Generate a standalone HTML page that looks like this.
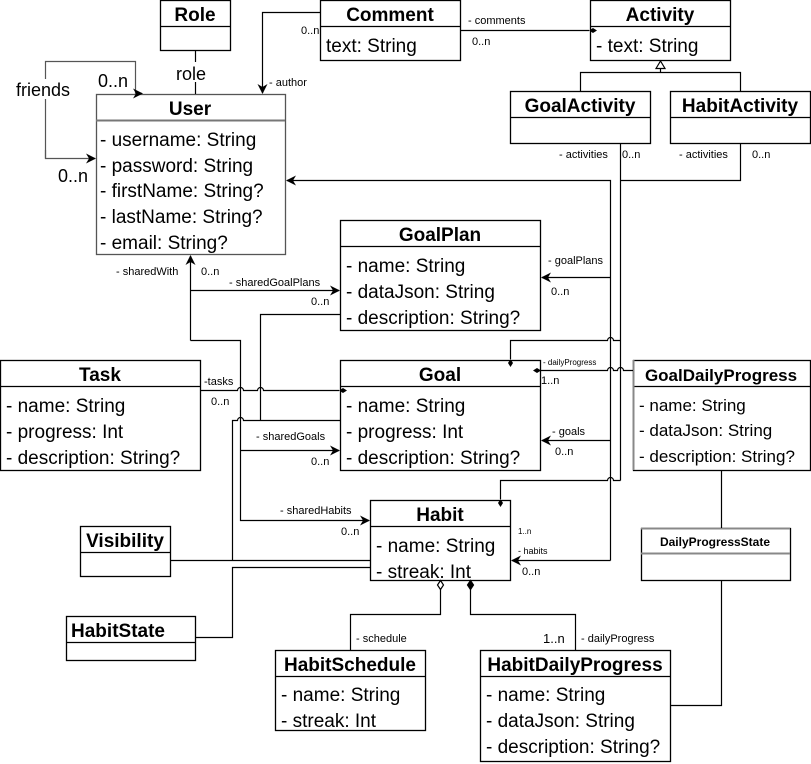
<!DOCTYPE html>
<html><head><meta charset="utf-8"><style>
html,body{margin:0;padding:0;background:#fff;}
svg{display:block;font-family:"Liberation Sans",sans-serif;}
.t{font-weight:bold;font-size:19px;text-anchor:middle;}
.a{font-size:19px;}
.s{font-size:11px;}
.m{font-size:12px;}
</style></head><body>
<svg width="811" height="764" viewBox="0 0 811 764" xmlns="http://www.w3.org/2000/svg">
<defs>
<marker id="ar" markerWidth="10" markerHeight="10" refX="9" refY="5" orient="auto" markerUnits="userSpaceOnUse"><path d="M0,0 L10,5 L0,10 L3,5 z" fill="#000"/></marker>
<marker id="fd" markerWidth="12" markerHeight="8" refX="1" refY="4" orient="auto" markerUnits="userSpaceOnUse"><path d="M1,4 L5,1.5 L9,4 L5,6.5 z" fill="#000"/></marker>
</defs>
<g fill="#fff" stroke="#000" stroke-width="1.3">
<rect x="160.5" y="0.5" width="70" height="50"/><line x1="160" y1="26.5" x2="230" y2="26.5"/>
<rect x="320.5" y="0.5" width="140" height="60"/><line x1="320" y1="26.5" x2="460" y2="26.5"/>
<rect x="590.5" y="0.5" width="140" height="60"/><line x1="590" y1="26.5" x2="730" y2="26.5"/>
<rect x="96.5" y="94.5" width="189" height="160" stroke="#555"/><line x1="96" y1="120.5" x2="285" y2="120.5" stroke="#777" stroke-width="2"/>
<rect x="510.5" y="91.5" width="140" height="52"/><line x1="510" y1="117.5" x2="650" y2="117.5"/>
<rect x="670.5" y="91.5" width="140" height="52"/><line x1="670" y1="117.5" x2="810" y2="117.5"/>
<rect x="340.5" y="220.5" width="200" height="110"/><line x1="340" y1="246.5" x2="540" y2="246.5"/>
<rect x="0.5" y="360.5" width="200" height="110"/><line x1="0" y1="386.5" x2="200" y2="386.5"/>
<rect x="340.5" y="360.5" width="200" height="110"/><line x1="340" y1="386.5" x2="540" y2="386.5"/>
<rect x="633.5" y="360.5" width="177" height="110"/><line x1="633" y1="386.5" x2="810" y2="386.5"/><line x1="633.5" y1="360" x2="633.5" y2="470" stroke="#888" stroke-width="2"/>
<rect x="80.5" y="526.5" width="90" height="50"/><line x1="80" y1="552.5" x2="170" y2="552.5"/>
<rect x="370.5" y="500.5" width="140" height="80"/><line x1="370" y1="526.5" x2="510" y2="526.5"/>
<rect x="641.5" y="528.5" width="149" height="52"/><line x1="641" y1="553.5" x2="790" y2="553.5" stroke="#888" stroke-width="2"/><line x1="641" y1="528.5" x2="790" y2="528.5" stroke="#888" stroke-width="2"/>
<rect x="66.5" y="616.5" width="129" height="44"/><line x1="66" y1="642.5" x2="195" y2="642.5"/>
<rect x="275.5" y="650.5" width="150" height="80"/><line x1="275" y1="676.5" x2="425" y2="676.5"/>
<rect x="480.5" y="650.5" width="190" height="111"/><line x1="480" y1="676.5" x2="670" y2="676.5"/>
</g>
<g fill="none" stroke="#000" stroke-width="1.2">
<path d="M195.5,50 V94"/>
<path d="M320,12.5 H262.5 V93" marker-end="url(#ar)"/>
<path d="M45.5,158.5 V61.5 H135.5 V93.5 H142" marker-end="url(#ar)" stroke="#555"/>
<path d="M45.5,150 V158.5 H95" marker-end="url(#ar)" stroke="#555"/>
<path d="M460,30.5 H589" marker-end="url(#fd)"/>
<path d="M660.5,69 V72.5 M580.5,91 V72.5 H740.5 V91"/>
<path d="M656,68.5 L660.5,61 L665,68.5 z" fill="#fff"/>
<path d="M740.5,143 V180.5 H620.5"/>
<path d="M620.5,143 V480.5"/>
<path d="M610.5,560.5 V180.5 H287" marker-end="url(#ar)"/>
<path d="M610.5,560.5 H512" marker-end="url(#ar)"/>
<path d="M610.5,277.5 H542" marker-end="url(#ar)"/>
<path d="M610.5,440.5 H542" marker-end="url(#ar)"/>
<path d="M620.5,340.5 H613.5 a3,3 0 0 0 -6,0 H510.5 V359" marker-end="url(#fd)"/>
<path d="M620.5,480.5 H613.5 a3,3 0 0 0 -6,0 H500.5 V499" marker-end="url(#fd)"/>
<path d="M633,370.5 H623.5 a3,3 0 0 0 -6,0 H613.5 a3,3 0 0 0 -6,0 H541" marker-end="url(#fd)"/>
<path d="M190.5,340.5 V256" marker-end="url(#ar)"/>
<path d="M190.5,340.5 H240.5 V520.5 H369" marker-end="url(#ar)"/>
<path d="M190.5,290.5 H339" marker-end="url(#ar)"/>
<path d="M240.5,450.5 H339" marker-end="url(#ar)"/>
<path d="M200,390.5 H237.5 a3,3 0 0 1 6,0 H257.5 a3,3 0 0 1 6,0 H339" marker-end="url(#fd)"/>
<path d="M340,314.5 H260.5 V420.5"/>
<path d="M232.5,560.5 V420.5 H237.5 a3,3 0 0 1 6,0 H340"/>
<path d="M171,560.5 H370"/>
<path d="M195,637.5 H232.5 V567.5 H370" />
<path d="M440.5,589 V614.5 H350.5 V650"/>
<path d="M437.5,585 L440.5,580.5 L443.5,585 L440.5,589.5 z" fill="#fff"/>
<path d="M470.5,589 V614.5 H575.5 V650"/>
<path d="M467.5,585 L470.5,580.5 L473.5,585 L470.5,589.5 z" fill="#000"/>
<path d="M721.5,470 V528 M721.5,581 V705.5 H670"/>
</g>
<g>
<text class="t" x="195" y="21">Role</text>
<text class="t" x="390" y="21">Comment</text>
<text class="a" x="326" y="52">text: String</text>
<text class="t" x="660" y="21">Activity</text>
<text class="a" x="596" y="52">- text: String</text>
<text class="t" x="190" y="115">User</text>
<text class="a" x="100" y="146">- username: String</text>
<text class="a" x="100" y="172">- password: String</text>
<text class="a" x="100" y="197">- firstName: String?</text>
<text class="a" x="100" y="223">- lastName: String?</text>
<text class="a" x="100" y="249">- email: String?</text>
<text class="t" x="580" y="112">GoalActivity</text>
<text class="t" x="740" y="112">HabitActivity</text>
<text class="t" x="440" y="241">GoalPlan</text>
<text class="a" x="346" y="272">- name: String</text>
<text class="a" x="346" y="298">- dataJson: String</text>
<text class="a" x="346" y="324">- description: String?</text>
<text class="t" x="100" y="381">Task</text>
<text class="a" x="6" y="412">- name: String</text>
<text class="a" x="6" y="438">- progress: Int</text>
<text class="a" x="6" y="464">- description: String?</text>
<text class="t" x="440" y="381">Goal</text>
<text class="a" x="346" y="412">- name: String</text>
<text class="a" x="346" y="438">- progress: Int</text>
<text class="a" x="346" y="464">- description: String?</text>
<text class="t" x="721" y="381" style="font-size:17px">GoalDailyProgress</text>
<text class="a" x="639" y="411" style="font-size:17px">- name: String</text>
<text class="a" x="639" y="436" style="font-size:17px">- dataJson: String</text>
<text class="a" x="639" y="462" style="font-size:17px">- description: String?</text>
<text class="t" x="125" y="547">Visibility</text>
<text class="t" x="440" y="521">Habit</text>
<text class="a" x="376" y="552">- name: String</text>
<text class="a" x="376" y="578">- streak: Int</text>
<text class="t" x="715" y="546" style="font-size:12px">DailyProgressState</text>
<text class="t" x="118" y="637">HabitState</text>
<text class="t" x="350" y="671">HabitSchedule</text>
<text class="a" x="281" y="701">- name: String</text>
<text class="a" x="281" y="727">- streak: Int</text>
<text class="t" x="575" y="671">HabitDailyProgress</text>
<text class="a" x="486" y="701">- name: String</text>
<text class="a" x="486" y="727">- dataJson: String</text>
<text class="a" x="486" y="753">- description: String?</text>
<rect x="14" y="79" width="62" height="20" fill="#fff"/>
<text x="16" y="96" style="font-size:18px">friends</text>
<text x="98" y="87" style="font-size:18px">0..n</text>
<text x="58" y="182" style="font-size:18px">0..n</text>
<rect x="174" y="62" width="40" height="20" fill="#fff"/>
<text x="176" y="80" style="font-size:18px">role</text>
<text class="s" x="301" y="34">0..n</text>
<text class="s" x="269" y="86">- author</text>
<text class="s" x="468" y="24">- comments</text>
<text class="s" x="472" y="45">0..n</text>
<text class="s" x="559" y="158">- activities</text>
<text class="s" x="622" y="158">0..n</text>
<text class="s" x="679" y="158">- activities</text>
<text class="s" x="752" y="158">0..n</text>
<text class="s" x="116" y="275">- sharedWith</text>
<text class="s" x="201" y="275">0..n</text>
<text class="s" x="229" y="286">- sharedGoalPlans</text>
<text class="s" x="311" y="305">0..n</text>
<text class="s" x="548" y="264">- goalPlans</text>
<text class="s" x="551" y="295">0..n</text>
<text class="s" x="543" y="365" style="font-size:8px">- dailyProgress</text>
<text class="s" x="541" y="384">1..n</text>
<text class="s" x="204" y="385">-tasks</text>
<text class="s" x="211" y="405">0..n</text>
<text class="s" x="256" y="440">- sharedGoals</text>
<text class="s" x="311" y="465">0..n</text>
<text class="s" x="552" y="435">- goals</text>
<text class="s" x="555" y="455">0..n</text>
<text class="s" x="280" y="514">- sharedHabits</text>
<text class="s" x="341" y="535">0..n</text>
<text class="s" x="518" y="534" style="font-size:8px">1..n</text>
<text class="s" x="518" y="554" style="font-size:9px">- habits</text>
<text class="s" x="522" y="575">0..n</text>
<text class="s" x="356" y="642">- schedule</text>
<text class="m" x="543" y="643" style="font-size:13px">1..n</text>
<text class="s" x="581" y="642">- dailyProgress</text>
</g>
</svg>
</body></html>
